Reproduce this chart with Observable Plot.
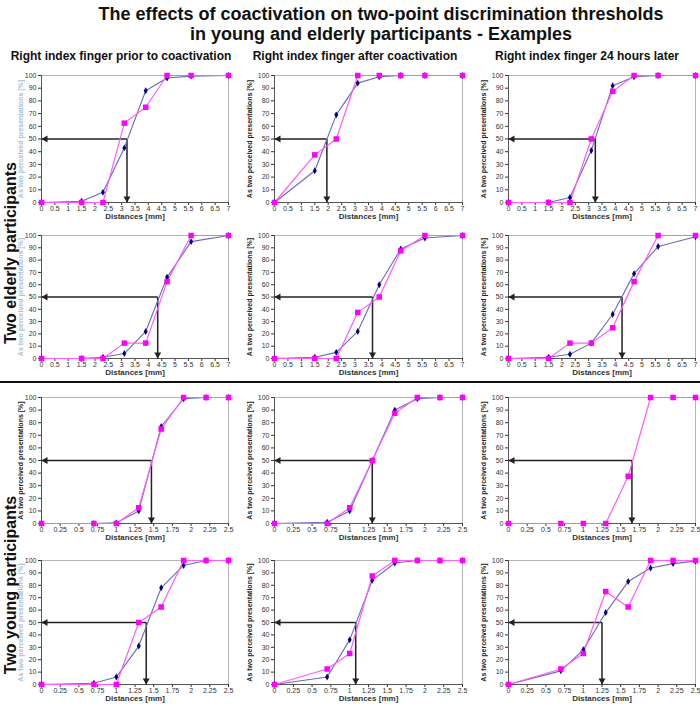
<!DOCTYPE html>
<html><head><meta charset="utf-8">
<script src="https://cdn.jsdelivr.net/npm/d3@7"></script>
<script src="https://cdn.jsdelivr.net/npm/@observablehq/plot@0.6"></script>
<style>
body{margin:0;background:#fff;}
#wrap{position:relative;width:700px;height:704px;overflow:hidden;font-family:Arial,"Liberation Sans",sans-serif;}
#wrap > svg{position:absolute;}
</style></head><body><div id="wrap"></div>
<script>
// ---- text ----
const titleLines = ["The effects of coactivation on two-point discrimination thresholds", "in young and elderly participants - Examples"];
const columnTitles = ["Right index finger prior to coactivation", "Right index finger after coactivation", "Right index finger 24 hours later"];
const rowGroupTitles = ["Two elderly participants", "Two young participants"];
const xLabel = "Distances [mm]";
const yLabel = "As two perceived presentations [%]";

// ---- ticks ----
const xTicksElderly = [0, 0.5, 1, 1.5, 2, 2.5, 3, 3.5, 4, 4.5, 5, 5.5, 6, 6.5, 7];
const xTicksYoung = [0, 0.25, 0.5, 0.75, 1, 1.25, 1.5, 1.75, 2, 2.25, 2.5];
const yTicks = [0, 10, 20, 30, 40, 50, 60, 70, 80, 90, 100];

// ---- distances ----
const distancesElderly = [0, 1.5, 2.3, 3.1, 3.9, 4.7, 5.6, 7];
const distancesYoung = [0, 0.7, 1, 1.3, 1.6, 1.9, 2.2, 2.5];

// ---- series (blue = participant A, magenta = participant B) ----
const blue1 = [0, 1, 8, 43, 88, 98, 99.5, 100];
const magenta1 = [0, 0, 0, 62.5, 75, 100, 100, 100];
const blue2 = [0, 25, 69, 94, 99, 100, 100, 100];
const magenta2 = [0, 37.5, 50, 100, 100, 100, 100, 100];
const blue3 = [0, 0, 4, 41, 92, 99, 100, 100];
const magenta3 = [0, 0, 0, 50, 87.5, 100, 100, 100];
const blue4 = [0, 0, 1, 4, 22, 66, 95, 100];
const magenta4 = [0, 0, 0, 12.5, 12.5, 62.5, 100, 100];
const blue5 = [0, 1, 5, 22, 60, 89, 98, 100];
const magenta5 = [0, 0, 0, 37.5, 50, 87.5, 100, 100];
const blue6 = [0, 1, 3.5, 12.5, 36, 69, 91, 99];
const magenta6 = [0, 0, 12.5, 12.5, 25, 62.5, 100, 100];
const blue7 = [0, 0, 0.5, 10, 77, 99, 100, 100];
const magenta7 = [0, 0, 0, 12.5, 75, 100, 100, 100];
const blue8 = [0, 1, 10, 50, 90, 99, 100, 100];
const magenta8 = [0, 0, 12.5, 50, 87.5, 100, 100, 100];
const blue9 = [];
const magenta9 = [0, 0, 0, 0, 37.5, 100, 100, 100];
const blue10 = [0, 1, 6, 31, 78, 96, 100, 100];
const magenta10 = [0, 0, 0, 50, 62.5, 100, 100, 100];
const blue11 = [0, 6, 36, 84, 98, 100, 100, 100];
const magenta11 = [0, 12.5, 25, 87.5, 100, 100, 100, 100];
const blue12 = [0, 11, 28, 58, 83, 94, 97.5, 99.5];
const magenta12 = [0, 12.5, 25, 75, 62.5, 100, 100, 100];

// 50% thresholds (arrows)
const thresholds = [3.2, 1.95, 3.25, 4.35, 3.65, 4.25, 1.47, 1.3, 1.65, 1.4, 1.08, 1.25];

const blueSeries = [blue1, blue2, blue3, blue4, blue5, blue6, blue7, blue8, blue9, blue10, blue11, blue12];
const magentaSeries = [magenta1, magenta2, magenta3, magenta4, magenta5, magenta6, magenta7, magenta8, magenta9, magenta10, magenta11, magenta12];

// ---- layout ----
const cols = [{l: 41, r: 228}, {l: 274, r: 462}, {l: 508, r: 695}];
const rows = [{t: 75, b: 202}, {t: 235, b: 358}, {t: 397, b: 523}, {t: 560, b: 684}];
const mL = 40, mR = 5, mT = 6, mB = 20;

const wrap = document.getElementById("wrap");

for (let i = 0; i < 12; i++) {
  const row = Math.floor(i / 3), col = i % 3;
  const elderly = row < 2;
  const xs = elderly ? distancesElderly : distancesYoung;
  const xmax = elderly ? 7 : 2.5;
  const ticks = elderly ? xTicksElderly : xTicksYoung;
  const blue = blueSeries[i].map((v, k) => ({x: xs[k], y: v}));
  const mag = magentaSeries[i].map((v, k) => ({x: xs[k], y: v}));
  const t = thresholds[i];
  const c = cols[col], r = rows[row];
  const w = c.r - c.l + mL + mR, h = r.b - r.t + mT + mB;
  const yLabColor = col === 0 && row !== 2 ? "#a9c0dc" : "#222";
  const svg = Plot.plot({
    width: w, height: h,
    marginLeft: mL, marginRight: mR, marginTop: mT, marginBottom: mB,
    style: {fontFamily: "Arial, 'Liberation Sans', sans-serif", fontSize: "7px", color: "#333", background: "transparent", overflow: "visible"},
    x: {domain: [0, xmax]},
    y: {domain: [0, 100]},
    marks: [
      Plot.ruleY([100], {stroke: "#b5b5b5", strokeWidth: 1}),
      Plot.ruleX([xmax], {stroke: "#b5b5b5", strokeWidth: 1}),
      Plot.axisX({ticks, tickSize: 3, tickPadding: 1, tickFormat: d => String(d), label: null, fontSize: 7}),
      Plot.axisY({ticks: yTicks, tickSize: 3, tickPadding: 2, label: null, fontSize: 7}),
      Plot.ruleY([0], {stroke: "#555"}),
      Plot.ruleX([0], {stroke: "#555"}),
      Plot.text([xLabel], {frameAnchor: "bottom", dy: 16, fontWeight: "bold", fontSize: 8, fill: "#333"}),
      Plot.text([yLabel], {frameAnchor: "left", dx: col === 0 ? -21 : -25, rotate: -90, textAnchor: "middle", fontWeight: "bold", fontSize: 7, fill: yLabColor}),
      Plot.link([{x1: t, y1: 50, x2: 0, y2: 50}, {x1: t, y1: 50, x2: t, y2: 0}], {x1: "x1", y1: "y1", x2: "x2", y2: "y2", stroke: "#222", strokeWidth: 1.5}),
      Plot.dot([{x: 0, y: 50}], {x: "x", y: "y", symbol: "triangle", rotate: -90, r: 2.6, fill: "#222", dx: 4}),
      Plot.dot([{x: t, y: 0}], {x: "x", y: "y", symbol: "triangle", rotate: 180, r: 2.6, fill: "#222", dy: -4}),
      Plot.line(blue, {x: "x", y: "y", stroke: "#6a6ab8", strokeWidth: 1.1}),
      Plot.line(mag, {x: "x", y: "y", stroke: "#ff5cff", strokeWidth: 1.2}),
      Plot.dot(blue, {x: "x", y: "y", symbol: "diamond", r: 2.1, fill: "#000080"}),
      Plot.dot(mag, {x: "x", y: "y", symbol: "square", r: 3.1, fill: "#ff00ff"})
    ]
  });
  svg.style.left = (c.l - mL) + "px";
  svg.style.top = (r.t - mT) + "px";
  wrap.appendChild(svg);
}

// ---- overlay texts ----
const ov = d3.select(wrap).append("svg").attr("width", 700).attr("height", 704)
  .style("left", "0px").style("top", "0px").style("font-family", "Arial, 'Liberation Sans', sans-serif");
ov.selectAll("text.title").data(titleLines).join("text")
  .attr("x", 381).attr("y", (d, k) => 20 + k * 20).attr("text-anchor", "middle")
  .attr("font-size", 18).attr("font-weight", "bold").attr("fill", "#111").text(d => d);
const colCenters = [121, 355, 587];
ov.selectAll("text.col").data(columnTitles).join("text")
  .attr("x", (d, k) => colCenters[k]).attr("y", 60).attr("text-anchor", "middle")
  .attr("font-size", 12).attr("font-weight", "bold").attr("fill", "#111").text(d => d);
const rowCenters = [253, 585];
ov.selectAll("text.row").data(rowGroupTitles).join("text")
  .attr("transform", (d, k) => `translate(10,${rowCenters[k]}) rotate(-90)`).attr("text-anchor", "middle").attr("dy", "0.35em")
  .attr("font-size", 16).attr("font-weight", "bold").attr("fill", "#111").text(d => d);
ov.append("line").attr("x1", 0).attr("x2", 700).attr("y1", 382).attr("y2", 382).attr("stroke", "#111").attr("stroke-width", 2);
</script></body></html>
